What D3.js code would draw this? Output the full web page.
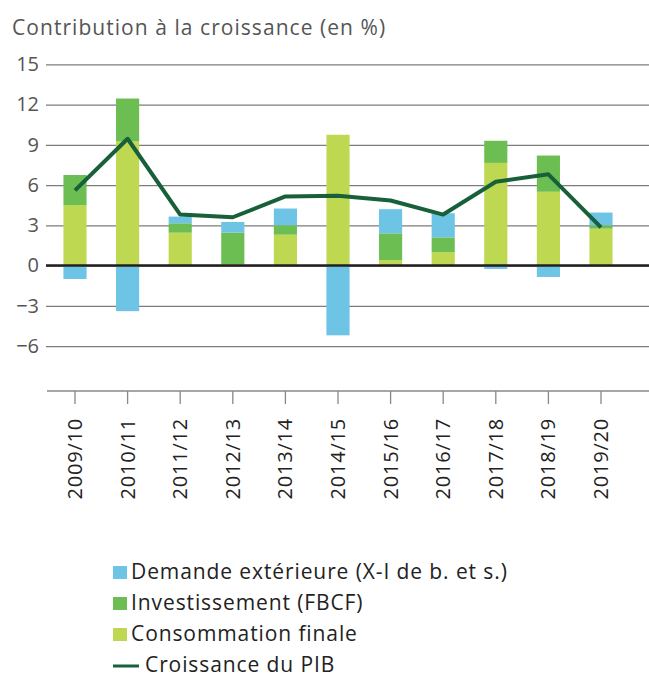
<!DOCTYPE html>
<html>
<head>
  <script src="https://d3js.org/d3.v7.min.js"></script>
  <style>
    body { margin: 0; background: #fff; }
    text { font-family: "Open Sans", sans-serif; }
  </style>
</head>
<body>
  <script>
    const years = ["2009/10", "2010/11", "2011/12", "2012/13", "2013/14", "2014/15",
                   "2015/16", "2016/17", "2017/18", "2018/19", "2019/20"];
    const consommation = [4.5, 9.25, 2.45, 0.1, 2.3, 9.75, 0.4, 1.0, 7.65, 5.5, 2.75];
    const investissement = [2.25, 3.2, 0.7, 2.35, 0.7, 0, 2.0, 1.1, 1.65, 2.7, 0.25];
    const demande = [-1.0, -3.4, 0.5, 0.8, 1.25, -5.2, 1.8, 1.8, -0.25, -0.85, 0.95];
    const pib = [5.6, 9.45, 3.8, 3.6, 5.15, 5.2, 4.85, 3.8, 6.25, 6.8, 2.85];
    const yTicks = [-6, -3, 0, 3, 6, 9, 12, 15];

    const keys = ["consommation", "investissement", "demande"];
    const colors = { consommation: "#bfd852", investissement: "#6dbe52", demande: "#6ec4e4" };
    const legendItems = [
      { label: "Demande extérieure (X-I de b. et s.)", color: colors.demande },
      { label: "Investissement (FBCF)", color: colors.investissement },
      { label: "Consommation finale", color: colors.consommation },
      { label: "Croissance du PIB", line: true }
    ];

    const w = 649, h = 677;
    const plotLeft = 46, plotRight = 649, plotTop = 64.3, plotBottom = 391;

    const rows = years.map((y, i) => ({
      year: y,
      consommation: consommation[i],
      investissement: investissement[i],
      demande: demande[i]
    }));

    const x = d3.scaleBand()
      .domain(years)
      .range([48.7, 627.3])
      .paddingInner(0.56)
      .paddingOuter(0.28);

    const y = d3.scaleLinear()
      .domain([-9.35, 15])
      .range([plotBottom, plotTop]);

    const svg = d3.select("body").append("svg")
      .attr("width", w)
      .attr("height", h);

    // title
    svg.append("text")
      .attr("x", 12).attr("y", 35)
      .attr("fill", "#555")
      .style("font-size", "21px")
      .style("letter-spacing", "1.05px")
      .text("Contribution à la croissance (en %)");

    // grid + y labels
    const yAxis = svg.append("g")
      .attr("transform", `translate(${plotLeft},0)`)
      .call(d3.axisLeft(y).tickValues(yTicks).tickSize(-(plotRight - plotLeft)).tickPadding(7));
    yAxis.select(".domain").remove();
    yAxis.selectAll(".tick line").attr("stroke", "#7d7d7d").attr("stroke-width", 1.3);
    yAxis.selectAll(".tick text")
      .attr("fill", "#555")
      .style("font-size", "20px")
      .style("font-family", "'Open Sans', sans-serif");

    // stacked bars
    const series = d3.stack()
      .keys(keys)
      .offset(d3.stackOffsetDiverging)(rows);

    svg.append("g")
      .selectAll("g")
      .data(series)
      .join("g")
      .attr("fill", d => colors[d.key])
      .selectAll("rect")
      .data(d => d)
      .join("rect")
      .attr("x", d => x(d.data.year))
      .attr("width", x.bandwidth())
      .attr("y", d => y(Math.max(d[0], d[1])))
      .attr("height", d => Math.abs(y(d[0]) - y(d[1])));

    // zero line
    svg.append("line")
      .attr("x1", plotLeft).attr("x2", plotRight)
      .attr("y1", y(0)).attr("y2", y(0))
      .attr("stroke", "#231f20")
      .attr("stroke-width", 2.6);

    // x axis
    const xAxis = svg.append("g")
      .attr("transform", `translate(0,${plotBottom})`)
      .call(d3.axisBottom(x).tickSize(13));
    xAxis.select(".domain").remove();
    xAxis.selectAll(".tick line").attr("stroke", "#888").attr("stroke-width", 1.3);
    xAxis.selectAll(".tick text")
      .attr("fill", "#222")
      .style("font-size", "20px")
      .style("letter-spacing", "0.8px")
      .style("font-family", "'Open Sans', sans-serif")
      .attr("text-anchor", "end")
      .attr("transform", "rotate(-90)")
      .attr("x", -27)
      .attr("y", 0)
      .attr("dy", "0.35em");
    svg.append("line")
      .attr("x1", plotLeft + 1).attr("x2", plotRight)
      .attr("y1", plotBottom).attr("y2", plotBottom)
      .attr("stroke", "#888")
      .attr("stroke-width", 1.3);

    // PIB line
    svg.append("path")
      .datum(pib)
      .attr("fill", "none")
      .attr("stroke", "#17603a")
      .attr("stroke-width", 4)
      .attr("stroke-linejoin", "round")
      .attr("d", d3.line()
        .x((d, i) => x(years[i]) + x.bandwidth() / 2)
        .y(d => y(d)));

    // legend
    const legend = svg.append("g");
    legendItems.forEach((item, i) => {
      const by = 579 + i * 31;
      if (item.line) {
        legend.append("line")
          .attr("x1", 113).attr("x2", 139)
          .attr("y1", by - 6).attr("y2", by - 6)
          .attr("stroke", "#17603a").attr("stroke-width", 3);
      } else {
        legend.append("rect")
          .attr("x", 113).attr("y", by - 13)
          .attr("width", 14).attr("height", 13)
          .attr("fill", item.color);
      }
      legend.append("text")
        .attr("x", item.line ? 145 : 131).attr("y", by)
        .attr("fill", "#222")
        .style("font-size", "21px")
        .style("letter-spacing", "0.9px")
        .text(item.label);
    });
  </script>
</body>
</html>
